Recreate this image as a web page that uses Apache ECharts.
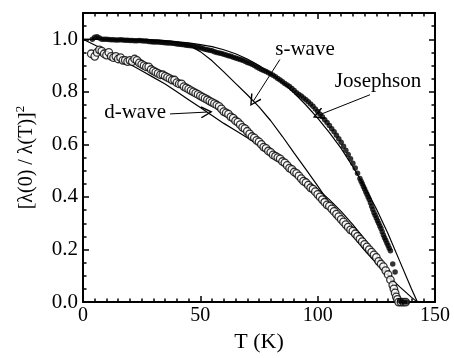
<!DOCTYPE html>
<html>
<head>
<meta charset="utf-8">
<script src="https://cdn.jsdelivr.net/npm/echarts@6/dist/echarts.min.js"></script>
<style>
html,body{margin:0;padding:0;background:#fff;}
#chart{width:454px;height:358px;}
</style>
</head>
<body>
<div id="chart"></div>
<script>
// Open circles (measured data, d-wave comparison)
var circT = [3.5,5,6,7,8,9,10,11,12,13,14,15,16,17,18,19,20,21,22,23,24,25,26,27,28,29,30,31,32,33,34,35,36,37,38,39,40,41,42,43,44,45,46,47,48,49,50,51,52,53,54,55,56,57,58,59,60,61,62,63,64,65,66,67,68,69,70,71,72,73,74,75,76,77,78,79,80,81,82,83,84,85,86,87,88,89,90,91,92,93,94,95,96,97,98,99,100,101,102,103,104,105,106,107,108,109,110,111,112,113,114,115,116,117,118,119,120,121,122,123,124,125,126,127,128,129,130,131,132,132.5,133,133.5,134,134.5,135.5,136.5,137.5];
var circY = [0.945,0.935,0.95,0.96,0.955,0.945,0.94,0.95,0.935,0.93,0.935,0.925,0.93,0.92,0.92,0.915,0.92,0.915,0.925,0.92,0.91,0.905,0.9,0.895,0.895,0.885,0.88,0.875,0.87,0.865,0.865,0.86,0.855,0.85,0.845,0.845,0.835,0.83,0.83,0.82,0.815,0.81,0.805,0.8,0.795,0.79,0.785,0.78,0.775,0.77,0.765,0.76,0.755,0.75,0.745,0.735,0.725,0.72,0.715,0.705,0.7,0.69,0.685,0.675,0.665,0.66,0.65,0.64,0.63,0.625,0.615,0.61,0.6,0.59,0.585,0.575,0.57,0.56,0.555,0.55,0.545,0.535,0.53,0.52,0.51,0.505,0.495,0.49,0.48,0.47,0.46,0.455,0.445,0.435,0.43,0.42,0.41,0.4,0.39,0.38,0.37,0.365,0.355,0.345,0.335,0.325,0.315,0.305,0.295,0.285,0.275,0.27,0.26,0.25,0.24,0.23,0.22,0.21,0.2,0.19,0.18,0.17,0.155,0.145,0.135,0.12,0.105,0.085,0.065,0.05,0.035,0.02,0.01,0.0,0.0,0.0,0.0];

// Filled dots (measured data)
var dotT = [4,5,6,7,8,9,10,11,12,13,14,15,16,17,18,19,20,21,22,23,24,25,26,27,28,29,30,31,32,33,34,35,36,37,38,39,40,41,42,43,44,45,46,47,48,49,50,51,52,53,54,55,56,57,58,59,60,61,62,63,64,65,66,67,68,69,70,71,72,73,74,75,76,77,78,79,80,81,82,83,84,85,86,87,88,89,90,91,92,93,94,95,96,97,98,99,100,101,102,103,104,105,106,107,108,109,110,111,112,113,114,115,116,117,118,118.5,119,119.5,120,120.5,121,121.5,122,122.5,123,123.5,124,124.5,125,125.5,126,126.5,127,127.5,128,128.5,129,129.5,130,130.5,131,132,133,135,136,137,138];
var dotY = [1.0,1.008,1.01,1.005,1.0,1.0,1.0,0.999,0.998,0.998,0.997,0.997,0.998,0.997,0.996,0.996,0.995,0.995,0.994,0.994,0.995,0.994,0.993,0.993,0.992,0.991,0.99,0.99,0.99,0.989,0.988,0.987,0.986,0.986,0.985,0.984,0.982,0.981,0.98,0.979,0.977,0.976,0.975,0.974,0.972,0.97,0.968,0.965,0.962,0.96,0.958,0.956,0.953,0.95,0.948,0.946,0.943,0.94,0.937,0.935,0.932,0.929,0.926,0.923,0.92,0.916,0.912,0.909,0.905,0.9,0.895,0.89,0.885,0.881,0.877,0.873,0.868,0.863,0.857,0.851,0.845,0.838,0.832,0.826,0.82,0.813,0.805,0.797,0.79,0.784,0.777,0.77,0.762,0.754,0.745,0.735,0.725,0.715,0.705,0.694,0.683,0.672,0.66,0.648,0.635,0.622,0.608,0.593,0.578,0.562,0.545,0.528,0.51,0.49,0.47,0.46,0.45,0.44,0.43,0.42,0.41,0.4,0.39,0.378,0.365,0.352,0.34,0.33,0.32,0.31,0.3,0.29,0.28,0.268,0.255,0.245,0.235,0.225,0.215,0.205,0.195,0.145,0.115,0.005,0.0,0.0,0.0];

// Model curves
var josT = [0,5,10,15,20,25,30,35,40,45,50,55,60,65,70,75,80,85,90,95,100,105,110,115,120,125,130,135,140,142.5];
var josY = [1.0,1.0,1.0,0.999,0.998,0.997,0.995,0.993,0.99,0.986,0.98,0.972,0.96,0.945,0.925,0.9,0.87,0.835,0.795,0.75,0.7,0.645,0.585,0.515,0.44,0.355,0.26,0.155,0.05,0];
var sT = [0,5,10,15,20,25,30,35,40,45,50,55,60,65,70,75,80,85,90,95,100,105,110,115,120,125,130,135,140,142.5];
var sY = [1.0,1.0,1.0,1.0,1.0,0.999,0.998,0.995,0.99,0.978,0.953,0.918,0.876,0.832,0.789,0.743,0.69,0.63,0.567,0.505,0.442,0.377,0.312,0.252,0.197,0.147,0.1,0.058,0.018,0];
var dT = [0,5,10,15,20,25,30,35,40,45,50,55,60,65,70,75,80,85,90,95,100,105,110,115,120,125,130,132,134];
var dY = [1.0,0.978,0.955,0.93,0.905,0.88,0.855,0.83,0.8,0.77,0.74,0.71,0.68,0.653,0.625,0.598,0.57,0.538,0.505,0.468,0.43,0.39,0.345,0.295,0.24,0.18,0.105,0.065,0];

// Tick labels
var xTicks = [0,50,100,150];
var yTicks = ['0.0','0.2','0.4','0.6','0.8','1.0'];

// Annotations (data coordinates)
var notes = [
  {text:'s-wave', at:[94.6,0.96], from:[83.9,0.923], to:[72.6,0.765]},
  {text:'Josephson', at:[125.7,0.84], from:[122.3,0.789], to:[100.3,0.711]},
  {text:'d-wave', at:[22.2,0.723], from:[37.1,0.716], to:[52.7,0.723]}
];

function zip(a,b){ return a.map(function(v,i){ return [v,b[i]]; }); }

var FONT = 'Liberation Serif';
var BLACK = '#000';
var chart = echarts.init(document.getElementById('chart'));

function yAx(pos, major, labels){
  return {
    type:'value', position:pos, min:0, max:1.1, interval: major?0.2:0.05,
    axisLine:{show:major, lineStyle:{color:BLACK,width:2}},
    axisTick:{show:true, inside:true, length: major?6:3.5, lineStyle:{color:BLACK,width:1.5}},
    axisLabel:{show:labels, color:BLACK, fontFamily:FONT, fontSize:21, margin:5,
      showMaxLabel:false,
      formatter:function(v){ var i=Math.round(v/0.2); return (Math.abs(v-i*0.2)<1e-6 && i<yTicks.length)? yTicks[i] : ''; }},
    splitLine:{show:false},
    name: labels ? '[λ(0) / λ(T)]{sup|2}' : '',
    nameLocation:'middle', nameGap:44, nameRotate:90,
    nameTextStyle:{color:BLACK, fontFamily:FONT, fontSize:20,
      rich:{sup:{fontSize:13, fontFamily:FONT, color:BLACK, verticalAlign:'top', padding:[0,0,12,0]}}}
  };
}
function xAx(pos, labels){
  return {
    type:'value', position:pos, min:0, max:150, interval:50,
    axisLine:{show:true, onZero:false, lineStyle:{color:BLACK,width:2}},
    axisTick:{show:true, inside:true, length:6, lineStyle:{color:BLACK,width:1.5}},
    minorTick:{show:true, splitNumber:10, length:3.5, lineStyle:{color:BLACK,width:1.5}},
    axisLabel:{show:labels, color:BLACK, fontFamily:FONT, fontSize:20, margin:4,
      formatter:function(v){ return xTicks.indexOf(v)>=0 ? String(v) : ''; }},
    splitLine:{show:false},
    name: labels ? 'T (K)' : '', nameLocation:'middle', nameGap:25,
    nameTextStyle:{color:BLACK, fontFamily:FONT, fontSize:22}
  };
}

var arrowPath = 'path://M5,0 L10,10 L9,10.8 L5,2.6 L1,10.8 L0,10 Z';

var option = {
  backgroundColor:'#fff',
  animation:false,
  grid:{left:83, right:19, top:13, bottom:45},
  xAxis:[xAx('bottom',true), xAx('top',false)],
  yAxis:[yAx('left',true,true), yAx('left',false,false), yAx('right',true,false), yAx('right',false,false)],
  series:[
    {type:'line', data:zip(josT,josY), symbol:'none', smooth:false, lineStyle:{color:BLACK,width:1.2}, z:1},
    {type:'line', data:zip(sT,sY), symbol:'none', smooth:false, lineStyle:{color:BLACK,width:1.2}, z:1},
    {type:'line', data:zip(dT,dY), symbol:'none', smooth:false, lineStyle:{color:BLACK,width:1.2}, z:1},
    {type:'scatter', data:zip(circT,circY), symbol:'circle', symbolSize:7.5,
      itemStyle:{color:'#fff', borderColor:BLACK, borderWidth:1.3}, z:3},
    {type:'scatter', data:zip(dotT,dotY), symbol:'circle', symbolSize:5.5,
      itemStyle:{color:BLACK}, z:4,
      markPoint:{symbol:'circle', symbolSize:1, itemStyle:{color:'rgba(0,0,0,0)'},
        label:{show:true, position:'inside', color:BLACK, fontFamily:FONT, fontSize:21,
          formatter:function(p){ return p.name; }},
        data: notes.map(function(n){ return {name:n.text, coord:n.at}; })},
      markLine:{silent:true, symbol:['none', arrowPath], symbolSize:12,
        lineStyle:{color:BLACK, width:1, type:'solid'}, label:{show:false},
        data: notes.map(function(n){ return [{coord:n.from},{coord:n.to}]; })}
    }
  ]
};
chart.setOption(option);
</script>
</body>
</html>
